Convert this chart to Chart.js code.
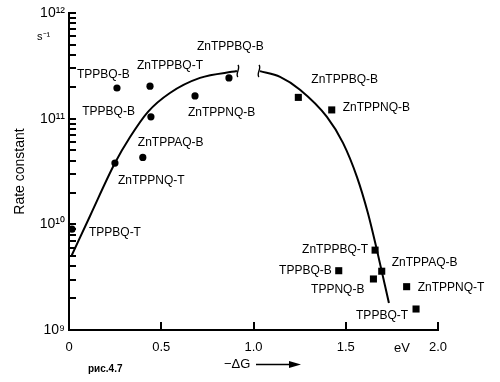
<!DOCTYPE html>
<html><head><meta charset="utf-8">
<script src="https://cdn.jsdelivr.net/npm/chart.js@4"></script>
<style>html,body{margin:0;padding:0;background:#fff}#wrap{width:500px;height:382px}</style>
</head><body><div id="wrap"><canvas id="c" width="500" height="382"></canvas></div>
<script>
// ---- data ----
const circleNames = ['TPPBQ-T','ZnTPPNQ-T','ZnTPPAQ-B','TPPBQ-B','TPPBQ-B','ZnTPPBQ-T','ZnTPPNQ-B','ZnTPPBQ-B'];
const circleDG    = [0.016, 0.249, 0.40, 0.444, 0.26, 0.439, 0.683, 0.867];
const circleK     = [9.0e9, 3.8e10, 4.3e10, 1.04e11, 1.95e11, 2.03e11, 1.64e11, 2.43e11];

const squareNames = ['ZnTPPBQ-B','ZnTPPNQ-B','ZnTPPBQ-T','TPPBQ-B','ZnTPPAQ-B','TPPNQ-B','ZnTPPNQ-T','TPPBQ-T'];
const squareDG    = [1.243, 1.424, 1.659, 1.462, 1.695, 1.65, 1.83, 1.881];
const squareK     = [1.59e11, 1.21e11, 5.7e9, 3.64e9, 3.6e9, 3.04e9, 2.57e9, 1.58e9];

const curveLeftDG  = [0.015, 0.114, 0.249, 0.331, 0.428, 0.547, 0.71, 0.91];
const curveLeftK   = [5.1e9, 1.2e10, 3.8e10, 6.7e10, 1.16e11, 1.75e11, 2.43e11, 2.82e11];
const curveRightDG = [1.035, 1.144, 1.252, 1.398, 1.485, 1.561, 1.62, 1.669, 1.734];
const curveRightK  = [2.82e11, 2.49e11, 1.88e11, 1.04e11, 5.9e10, 2.8e10, 1.28e10, 5.7e9, 1.8e9];

const xTickValues = [0, 0.5, 1.0, 1.5, 2.0];
const xTickLabels = ['0', '0.5', '1.0', '1.5', '2.0'];
const yTickValues = [1e9, 1e10, 1e11, 1e12];
const yTickLabels = ['10⁹', '10¹⁰', '10¹¹', '10¹²'];
const yMinorMultipliers = [2, 3, 4, 5, 6, 7, 8, 9];

// ---- label layout (pixel offsets from each point) ----
const circleLabelLayout = [
  {dx:17, dy:4, a:'left'}, {dx:3, dy:18, a:'left'}, {dx:-5, dy:-15, a:'left'}, {dx:-16, dy:-5, a:'right'},
  {dx:-40, dy:-13, a:'left'}, {dx:-13, dy:-20, a:'left'}, {dx:-7, dy:17, a:'left'}, {dx:-32, dy:-31, a:'left'}
];
const squareLabelLayout = [
  {dx:13, dy:-18, a:'left'}, {dx:11, dy:-2, a:'left'}, {dx:-7, dy:0, a:'right'}, {dx:-7, dy:0, a:'right'},
  {dx:10, dy:-9, a:'left'}, {dx:-9, dy:11, a:'right'}, {dx:11, dy:1, a:'left'}, {dx:-8, dy:7, a:'right'}
];

const FONT = '"Liberation Sans", Arial, sans-serif';
const toPts = (xs, ys) => xs.map((x, i) => ({x, y: ys[i]}));

const decor = {
  id: 'decor',
  afterDraw(chart) {
    const ctx = chart.ctx, xs = chart.scales.x, ys = chart.scales.y, ca = chart.chartArea;
    ctx.save();
    ctx.strokeStyle = '#000'; ctx.fillStyle = '#000';
    // inward ticks on y (decades and minor multiples)
    const yTickPos = [];
    yTickValues.forEach((base, i) => {
      yTickPos.push(base);
      if (i < yTickValues.length - 1) yMinorMultipliers.forEach(m => yTickPos.push(base * m));
    });
    ctx.lineWidth = 2;
    ctx.beginPath();
    yTickPos.forEach(v => {
      const y = Math.round(ys.getPixelForValue(v));
      ctx.moveTo(ca.left - 1, y); ctx.lineTo(ca.left + 7, y);
    });
    xTickValues.forEach(v => {
      const x = Math.round(xs.getPixelForValue(v));
      ctx.moveTo(x, ca.bottom + 1); ctx.lineTo(x, ca.bottom - 8);
    });
    ctx.stroke();
    // break marks on curve
    ctx.lineWidth = 1.4;
    const brk = (x, y, dir) => {
      ctx.beginPath();
      ctx.moveTo(x, y - 6);
      ctx.bezierCurveTo(x + 3*dir, y - 3, x - 3*dir, y + 3, x, y + 6);
      ctx.stroke();
    };
    const ln = curveLeftDG.length - 1;
    brk(xs.getPixelForValue(curveLeftDG[ln]) + 1, ys.getPixelForValue(curveLeftK[ln]), 1);
    brk(xs.getPixelForValue(curveRightDG[0]) - 1, ys.getPixelForValue(curveRightK[0]), 1);

    // point labels
    ctx.font = '12px ' + FONT; ctx.textBaseline = 'middle';
    const lab = (dsIndex, names, layout) => {
      chart.getDatasetMeta(dsIndex).data.forEach((el, i) => {
        const L = layout[i];
        ctx.textAlign = L.a;
        ctx.fillText(names[i], el.x + L.dx, el.y + L.dy);
      });
    };
    lab(2, circleNames, circleLabelLayout);
    lab(3, squareNames, squareLabelLayout);

    // unit & caption texts
    ctx.textAlign = 'left';
    ctx.font = '11px ' + FONT;
    ctx.fillText('s⁻¹', 37, 37);
    ctx.font = '13px ' + FONT;
    ctx.fillText('eV', 394, 348);
    ctx.fillText('−ΔG', 224, 364);
    ctx.font = 'bold 10px ' + FONT;
    ctx.fillText('рис.4.7', 88, 369);
    // arrow
    ctx.lineWidth = 1.5;
    ctx.beginPath(); ctx.moveTo(256, 364.5); ctx.lineTo(292, 364.5); ctx.stroke();
    ctx.beginPath(); ctx.moveTo(301, 364.5); ctx.lineTo(289, 361); ctx.lineTo(289, 368); ctx.closePath(); ctx.fill();
    ctx.restore();
  }
};

new Chart(document.getElementById('c'), {
  type: 'scatter',
  data: {
    datasets: [
      {data: toPts(curveLeftDG, curveLeftK), showLine: true, pointRadius: 0, borderColor: '#000', borderWidth: 2, cubicInterpolationMode: 'monotone', order: 2},
      {data: toPts(curveRightDG, curveRightK), showLine: true, pointRadius: 0, borderColor: '#000', borderWidth: 2, cubicInterpolationMode: 'monotone', order: 2},
      {data: toPts(circleDG, circleK), pointStyle: 'circle', pointRadius: 3.6, backgroundColor: '#000', borderColor: '#000', borderWidth: 0, order: 0},
      {data: toPts(squareDG, squareK), pointStyle: 'rect', pointRadius: 5, backgroundColor: '#000', borderColor: '#000', borderWidth: 0, order: 0}
    ]
  },
  options: {
    responsive: false, animation: false, devicePixelRatio: 1,
    layout: {padding: {left: 0, top: 13, right: 62, bottom: 0}},
    plugins: {legend: {display: false}, tooltip: {enabled: false}},
    scales: {
      x: {
        type: 'linear', min: 0, max: 2,
        afterBuildTicks: s => { s.ticks = xTickValues.map(v => ({value: v})); },
        afterFit: s => { s.height = 52; },
        ticks: {color: '#000', font: {family: FONT, size: 13}, padding: 10, autoSkip: false, maxRotation: 0,
          callback: (v) => { const i = xTickValues.indexOf(v); return i >= 0 ? xTickLabels[i] : ''; }},
        grid: {display: false, drawTicks: false},
        border: {display: true, color: '#000', width: 2}
      },
      y: {
        type: 'logarithmic', min: 1e9, max: 1e12,
        afterBuildTicks: s => { s.ticks = yTickValues.map(v => ({value: v})); },
        afterFit: s => { s.width = 69; },
        ticks: {color: '#000', font: {family: FONT, size: 14}, padding: 4, autoSkip: false,
          callback: (v) => { const i = yTickValues.findIndex(tv => Math.abs(tv - v) / tv < 1e-6); return i >= 0 ? yTickLabels[i] : ''; }},
        grid: {display: false, drawTicks: false},
        border: {display: true, color: '#000', width: 2},
        title: {display: true, text: 'Rate constant', color: '#000', font: {family: FONT, size: 14}, padding: {top: 12, bottom: 0}}
      }
    }
  },
  plugins: [decor]
});
</script></body></html>
